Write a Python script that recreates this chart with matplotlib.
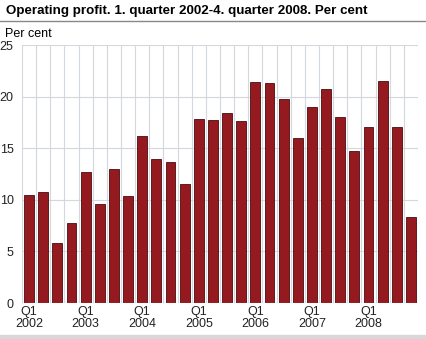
import matplotlib.pyplot as plt
import numpy as np

plt.rcParams["font.family"] = ["Liberation Sans", "DejaVu Sans"]

quarters = ["Q1\n2002", "", "", "", "Q1\n2003", "", "", "", "Q1\n2004", "", "", "",
            "Q1\n2005", "", "", "", "Q1\n2006", "", "", "", "Q1\n2007", "", "", "",
            "Q1\n2008", "", "", ""]
profit = [10.5, 10.8, 5.8, 7.8, 12.7, 9.6, 13.0, 10.4, 16.2, 14.0, 13.7, 11.5,
          17.8, 17.7, 18.4, 17.6, 21.4, 21.3, 19.8, 16.0, 19.0, 20.7, 18.0, 14.7,
          17.1, 21.5, 17.1, 8.3]
yticks = [0, 5, 10, 15, 20, 25]

fig = plt.figure(figsize=(4.26, 3.39), dpi=100)
ax = fig.add_axes([22 / 426, 1 - 303 / 339, 396 / 426, 258 / 339])

x = np.arange(len(profit))
ax.bar(x, profit, width=0.7, color="#941a1f", edgecolor="#4a0c0f", linewidth=0.6, zorder=3)

ax.set_xlim(-0.5, len(profit) - 0.5)
ax.set_ylim(0, 25)
ax.set_yticks(yticks)
ax.set_xticks(x)
ax.set_xticklabels(quarters, fontsize=9, linespacing=1.0)
ax.tick_params(axis="both", length=0, labelsize=9, colors="#222222")
ax.tick_params(axis="x", pad=2)
ax.tick_params(axis="y", pad=6)

# vertical grid between bars, horizontal grid at ticks
for b in np.arange(-0.5, len(profit), 1.0):
    ax.axvline(b, color="#d3d7de", linewidth=0.8, zorder=1)
for t in yticks:
    ax.axhline(t, color="#d3d7de", linewidth=0.8, zorder=1)
ax.axhline(0, color="#aaaaaa", linewidth=0.8, zorder=4)

for s in ax.spines.values():
    s.set_visible(False)

fig.text(6 / 426, 1 - 11 / 339, "Operating profit. 1. quarter 2002-4. quarter 2008. Per cent",
         fontsize=9.6, fontweight="bold", va="center", ha="left")
fig.add_artist(plt.Line2D([0, 1], [1 - 21 / 339, 1 - 21 / 339], color="#888888", linewidth=1))
fig.text(5 / 426, 1 - 34 / 339, "Per cent", fontsize=9, va="center", ha="left")
fig.add_artist(plt.Rectangle((0, 0), 1, 4 / 339, color="#d8d8d8", transform=fig.transFigure))

fig.savefig("out.png", dpi=100)
